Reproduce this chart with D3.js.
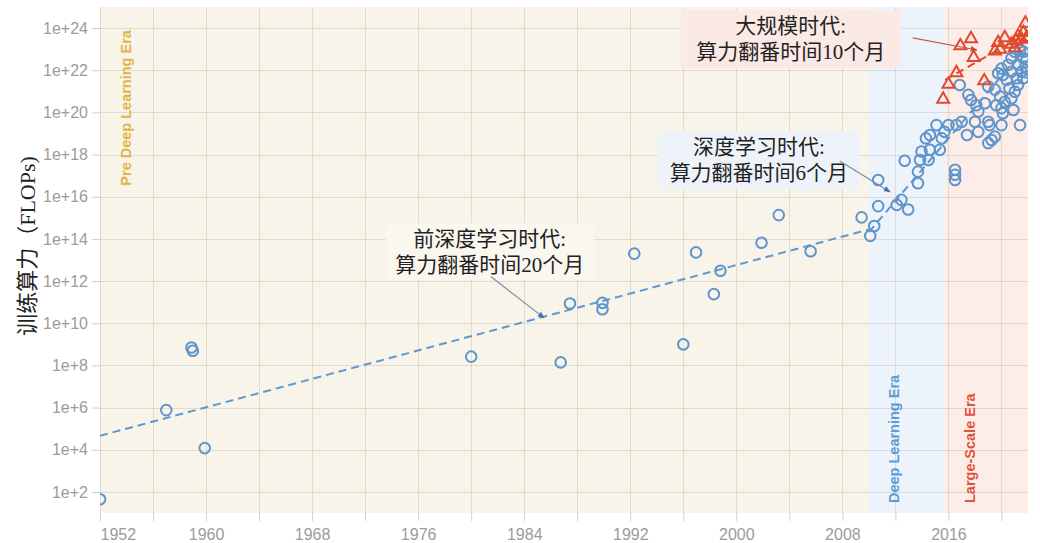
<!DOCTYPE html>
<html><head><meta charset="utf-8">
<script src="https://cdn.jsdelivr.net/npm/d3@7"></script>
<style>body{margin:0;background:#fff;} svg{display:block;}</style>
</head><body>
<svg id="chart" width="1040" height="543"></svg>
<script>
// ---------------- data ----------------
const eraNames = ["Pre Deep Learning Era", "Deep Learning Era", "Large-Scale Era"];
const eraStart = [1952, 2010, 2015.75];
const eraEnd   = [2010, 2015.75, 2022];

const xTickYears = [1952,1956,1960,1964,1968,1972,1976,1980,1984,1988,1992,1996,2000,2004,2008,2012,2016,2020];
const xTickLabels = ["1952","","1960","","1968","","1976","","1984","","1992","","2000","","2008","","2016",""];
const yTickValues = [1e2,1e4,1e6,1e8,1e10,1e12,1e14,1e16,1e18,1e20,1e22,1e24];
const yTickLabels = ["1e+2","1e+4","1e+6","1e+8","1e+10","1e+12","1e+14","1e+16","1e+18","1e+20","1e+22","1e+24"];

// regular-scale systems (blue circles)
const circleYears = [
 1952.0,1957.0,1958.9,1959.0,1959.9,1980.0,1986.75,1987.45,1989.9,1989.9,
 1992.3,1996.0,1996.96,1998.3,1998.8,2001.9,2003.2,2005.6,2009.45,2010.1,
 2010.4,2010.7,2010.7,2012.1,2012.45,2012.96,2012.7,2013.7,2013.7,2013.85,
 2013.97,2014.5,2014.6,2015.35,2014.3,2014.6,2015.1,2015.5,2015.7,2016.5,
 2016.5,2016.5,2016.0,2016.6,2017.0,2017.4,2016.85,2017.5,2017.7,2018.1,
 2018.25,2018.0,2018.25,2018.75,2019.0,2019.5,2019.9,2020.25,2020.75,2020.9,
 2020.0,2020.1,2019.6,2019.0,2019.1,2019.0,2019.25,2019.5,2020.0,2021.4,
 2021.0,2021.4,2020.75,2020.5,2020.0,2019.75,2020.1,2020.4,2020.75,2021.25,
 2021.5,2021.65,2021.15,2021.25,2021.65,2021.8,2021.0,2020.6,2021.65,2021.9,
 2021.9
];
const circleFlops = [
 4.5e1,7.6e5,7.1e8,5.0e8,1.2e4,2.6e8,1.4e8,8.7e10,9.3e10,4.6e10,
 2.0e13,1.0e9,2.3e13,2.4e11,3.1e12,6.6e13,1.35e15,2.6e13,1.05e15,1.4e14,
 4.1e14,6.2e16,3.6e15,4.1e15,7.1e15,2.5e15,5.1e17,1.55e17,4.4e16,5.5e17,
 1.4e18,5.5e17,1.7e18,1.7e18,5.9e18,8.5e18,2.5e19,5.9e18,1.2e19,1.9e17,
 1.1e17,6.2e16,2.5e19,2.5e19,3.6e19,8.5e18,2.0e21,6.8e20,3.9e20,2.2e20,
 1.1e20,3.6e19,1.2e19,2.7e20,1.7e21,1.2e21,5.6e20,3.2e20,4.7e20,1.3e20,
 1.6e20,9.1e19,2.2e20,3.6e19,2.5e19,3.5e18,4.9e18,7.1e18,2.5e19,2.5e19,
 7.6e22,9.1e22,3.7e22,1.8e22,1.2e22,7.2e21,6.0e21,3.5e21,8.5e21,1.8e22,
 8.5e21,4.2e21,4.2e21,2.0e21,3.7e22,1.5e22,9.5e20,1.4e21,7.6e22,7.9e21,
 3.2e22
];

// large-scale systems (red triangles)
const triangleYears = [
 2015.6,2016.0,2016.6,2016.9,2017.7,2017.9,2018.7,2019.75,2020.25,2019.5,
 2019.9,2020.75,2021.1,2021.5,2021.65,2021.8,2021.25,2021.9,2021.0
];
const triangleFlops = [
 4.7e20,2.4e21,8.5e21,1.6e23,3.5e23,4.5e22,3.5e21,2.3e23,3.9e23,9.1e22,
 1.1e23,1.9e23,2.8e23,3.3e23,6.8e23,1.9e24,4.7e23,4.0e23,1.3e23
];

// trend lines (start/end)
const preTrendYears = [1952, 2010];
const preTrendFlops = [4.6e4, 2.8e14];
const dlTrendYears  = [2010, 2022];
const dlTrendFlops  = [2.1e14, 1.6e23];
const lsTrendYears  = [2015.75, 2022];
const lsTrendFlops  = [3.5e21, 5.8e23];

const yTitle = "训练算力（FLOPs)";
const noteLines = [
  ["前深度学习时代:", "算力翻番时间20个月"],
  ["深度学习时代:", "算力翻番时间6个月"],
  ["大规模时代:", "算力翻番时间10个月"]
];
// annotation anchors (box centre and arrow start/tip in data units)
const noteBoxYear  = [1981.4, 2001.7, 2004.1];
const noteBoxFlops = [2.5e13, 5.4e17, 3.1e23];
const noteFromYear = [1981.5, 2007.8, 2013.3];
const noteFromFlops= [1.6e12, 5.0e17, 3.4e23];
const noteToYear   = [1985.5, 2011.6, 2018.15];
const noteToFlops  = [1.8e10, 1.7e16, 9.1e22];

// ---------------- chart ----------------
const svg = d3.select("#chart");
const x = d3.scaleLinear().domain([1952, 2022]).range([100, 1028]);
const y = d3.scaleLog().domain([1e1, 1e25]).range([513, 7]);
const [x0, x1] = x.range();
const [y0, y1] = y.range();

const eraFill = ["#f8f4e9", "#edf3fb", "#fcede9"];
const eraText = ["#e2b446", "#5d9bd6", "#e0533b"];
const blue = "#5e95cc", red = "#e04a2d";

const defs = svg.append("defs");
defs.append("clipPath").attr("id","plotclip").append("rect")
  .attr("x", x0).attr("y", y1).attr("width", x1 - x0).attr("height", y0 - y1);
function marker(id, color){
  defs.append("marker").attr("id", id).attr("viewBox","0 -5 10 10")
    .attr("refX", 9).attr("refY", 0).attr("markerWidth", 7).attr("markerHeight", 7)
    .attr("markerUnits","userSpaceOnUse").attr("orient","auto")
    .append("path").attr("d","M0,-4L10,0L0,4Z").attr("fill", color);
}
marker("arrBlue", "#3f6fb5");
marker("arrRed", "#d2462b");

const plot = svg.append("g").attr("clip-path","url(#plotclip)");

// era backgrounds
plot.selectAll("rect.era").data(eraNames).join("rect").attr("class","era")
  .attr("x", (d,i) => x(eraStart[i])).attr("y", y1)
  .attr("width", (d,i) => x(eraEnd[i]) - x(eraStart[i])).attr("height", y0 - y1)
  .attr("fill", (d,i) => eraFill[i]);

// grid
const grid = plot.append("g").attr("stroke", "#8a7f6a").attr("stroke-opacity", 0.2).attr("stroke-width", 1);
grid.selectAll("line.v").data(xTickYears).join("line").attr("class","v")
  .attr("x1", d => Math.round(x(d)) + 0.5).attr("x2", d => Math.round(x(d)) + 0.5)
  .attr("y1", y1).attr("y2", y0);
grid.selectAll("line.h").data(yTickValues).join("line").attr("class","h")
  .attr("y1", d => Math.round(y(d)) + 0.5).attr("y2", d => Math.round(y(d)) + 0.5)
  .attr("x1", x0).attr("x2", x1);

// era labels
const eraLabelAnchorY = [1e17, 1e2, 1e2];
plot.selectAll("text.era").data(eraNames).join("text").attr("class","era")
  .attr("transform", (d,i) => {
    const cx = x(eraStart[i]) + (i === 0 ? 31 : 30);
    const cy = i === 0 ? y(eraLabelAnchorY[0]) + 10 : y0 - 10;
    return `translate(${cx},${cy}) rotate(-90)`;
  })
  .attr("text-anchor","start").attr("font-family","'Liberation Sans', Arial, sans-serif")
  .attr("font-weight","bold").attr("font-size", 14.5)
  .attr("fill", (d,i) => eraText[i]).text(d => d);

// trend lines
const line = d3.line().x(d => x(d[0])).y(d => y(d[1]));
function trend(years, flops, color){
  plot.append("path").datum(years.map((yr,i) => [yr, flops[i]]))
    .attr("d", line).attr("fill","none").attr("stroke", color)
    .attr("stroke-width", 2).attr("stroke-dasharray","8,5");
}
trend(preTrendYears, preTrendFlops, "#5e98d2");
trend(dlTrendYears, dlTrendFlops, "#5e98d2");
trend(lsTrendYears, lsTrendFlops, red);

// points
plot.selectAll("circle.pt").data(circleYears.map((yr,i)=>[yr, circleFlops[i]])).join("circle")
  .attr("class","pt").attr("cx", d => x(d[0])).attr("cy", d => y(d[1])).attr("r", 5.3)
  .attr("fill","none").attr("stroke", blue).attr("stroke-width", 2);
const tri = d3.symbol().type(d3.symbolTriangle).size(62);
plot.selectAll("path.tri").data(triangleYears.map((yr,i)=>[yr, triangleFlops[i]])).join("path")
  .attr("class","tri").attr("d", tri)
  .attr("transform", d => `translate(${x(d[0])},${y(d[1]) + 1})`)
  .attr("fill","none").attr("stroke", red).attr("stroke-width", 2);

// annotations
const noteFill = ["#faf7ef", "#eef3fa", "#fbe9e6"];
const noteW = [208, 202, 220], noteH = [57, 58, 58];
const noteArrowColor = ["#7c8cab", "#7c8cab", "#c85a45"];
const noteMarker = ["arrBlue", "arrBlue", "arrRed"];
const notes = svg.append("g");
noteLines.forEach((lines, i) => {
  const cx = x(noteBoxYear[i]), cy = y(noteBoxFlops[i]);
  const g = notes.append("g");
  g.append("rect").attr("x", cx - noteW[i]/2).attr("y", cy - noteH[i]/2)
    .attr("width", noteW[i]).attr("height", noteH[i]).attr("fill", noteFill[i]);
  g.selectAll("text").data(lines).join("text")
    .attr("x", cx).attr("y", (d,j) => cy - 6 + j*26)
    .attr("text-anchor","middle")
    .attr("font-family","'Liberation Serif', 'Noto Sans CJK SC', serif")
    .attr("font-size", 21).attr("fill","#222").text(d => d);
  g.append("line")
    .attr("x1", x(noteFromYear[i])).attr("y1", y(noteFromFlops[i]))
    .attr("x2", x(noteToYear[i])).attr("y2", y(noteToFlops[i]))
    .attr("stroke", noteArrowColor[i]).attr("stroke-width", 1.2)
    .attr("marker-end", `url(#${noteMarker[i]})`);
});

// axes
const axisFont = "'Liberation Sans', Arial, Helvetica, sans-serif";
const xAxis = svg.append("g").attr("transform", `translate(0,${y0})`)
  .call(d3.axisBottom(x).tickValues(xTickYears).tickSize(8).tickPadding(8)
    .tickFormat((d,i) => xTickLabels[i]));
const yAxis = svg.append("g").attr("transform", `translate(${x0},0)`)
  .call(d3.axisLeft(y).tickValues(yTickValues).tickSize(8).tickPadding(4)
    .tickFormat((d,i) => yTickLabels[i]));
[xAxis, yAxis].forEach(a => {
  a.select(".domain").remove();
  a.selectAll(".tick line").attr("stroke", "#cfcfcf");
  a.selectAll(".tick text").attr("fill", "#9b9b9b").attr("font-size", 16).attr("font-family", axisFont);
});
xAxis.selectAll(".tick text").filter((d,i) => i === 0).attr("text-anchor","start");

svg.append("text")
  .attr("transform", `translate(27,246) rotate(-90)`)
  .attr("text-anchor","middle").attr("dominant-baseline","central")
  .attr("font-family","'Liberation Serif', 'Noto Sans CJK SC', serif")
  .attr("font-size", 22).attr("fill","#222").text(yTitle);
</script>
</body></html>
